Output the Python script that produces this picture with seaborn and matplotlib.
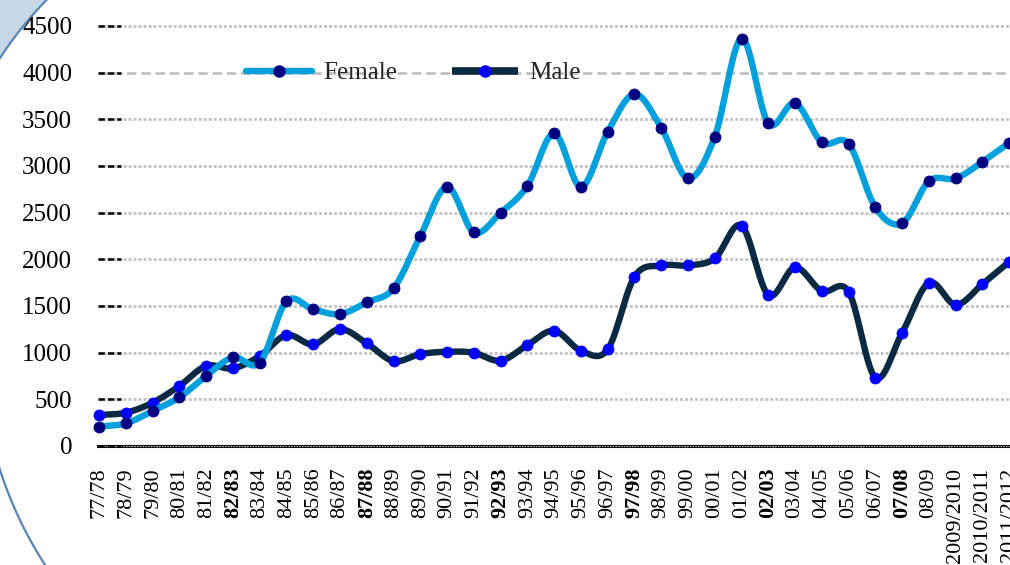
import numpy as np
import pandas as pd
import matplotlib
matplotlib.use("Agg")
import matplotlib.pyplot as plt
import seaborn as sns
from matplotlib.lines import Line2D
from matplotlib.patches import Polygon

# ---------------- data ----------------
periods = ["77/78", "78/79", "79/80", "80/81", "81/82", "82/83", "83/84", "84/85",
           "85/86", "86/87", "87/88", "88/89", "89/90", "90/91", "91/92", "92/93",
           "93/94", "94/95", "95/96", "96/97", "97/98", "98/99", "99/00", "00/01",
           "01/02", "02/03", "03/04", "04/05", "05/06", "06/07", "07/08", "08/09",
           "2009/2010", "2010/2011", "2011/2012"]
female = [207, 243, 375, 521, 750, 950, 893, 1550, 1464, 1414, 1539, 1689, 2249,
          2777, 2289, 2499, 2787, 3349, 2777, 3367, 3770, 3410, 2867, 3313, 4366,
          3456, 3674, 3253, 3238, 2556, 2388, 2838, 2867, 3045, 3249]
male = [332, 357, 464, 643, 857, 832, 964, 1189, 1089, 1253, 1100, 910, 985,
        1010, 999, 914, 1082, 1235, 1021, 1035, 1813, 1935, 1935, 2010, 2360,
        1617, 1914, 1660, 1653, 732, 1214, 1749, 1513, 1735, 1974]
bold_periods = ["82/83", "87/88", "92/93", "97/98", "02/03", "07/08"]
y_ticks = [0, 500, 1000, 1500, 2000, 2500, 3000, 3500, 4000, 4500]
series_names = ["Female", "Male"]

# ---------------- style ----------------
sns.set_style("white")
plt.rcParams["font.family"] = ["Liberation Serif", "DejaVu Serif"]

FEM_LINE, FEM_MARK = "#00A0DC", "#000080"
MAL_LINE, MAL_MARK = "#0A2A44", "#0000FF"
GRID = "#BFBFBF"

W, H = 1010, 565
fig = plt.figure(figsize=(W / 100, H / 100), dpi=100)
fig.patch.set_facecolor("white")

x0_px, y0_px, ytop_px = 98, 446, 26
px_per_unit = 26.77
xlim = (-0.04, 34.5)
ax_w_px = (xlim[1] - xlim[0]) * px_per_unit
ax = fig.add_axes([x0_px / W, 1 - y0_px / H, ax_w_px / W, (y0_px - ytop_px) / H])
ax.set_facecolor("none")

x = np.arange(len(periods))


def smooth(vals, n=24):
    """Catmull-Rom (Excel-style) smoothing through the points."""
    v = np.asarray(vals, float)
    m = np.gradient(v)
    t = np.linspace(0, 1, n, endpoint=False)
    h00 = 2 * t**3 - 3 * t**2 + 1
    h10 = t**3 - 2 * t**2 + t
    h01 = -2 * t**3 + 3 * t**2
    h11 = t**3 - t**2
    xs, ys = [], []
    for i in range(len(v) - 1):
        xs.append(i + t)
        ys.append(h00 * v[i] + h10 * m[i] + h01 * v[i + 1] + h11 * m[i + 1])
    xs.append([len(v) - 1])
    ys.append([v[-1]])
    return np.concatenate(xs), np.concatenate(ys)


# gridlines
ax.set_ylim(0, 4500)
ax.set_xlim(*xlim)
ax.set_yticks(y_ticks)
for yv in y_ticks[1:]:
    if yv == 4000:
        ls = (0, (3.6, 1.8))
    else:
        ls = (0, (1.1, 0.8))
    ax.axhline(yv, color=GRID, lw=1.9, ls=ls, zorder=1, clip_on=False)
# black dashes at left of each gridline
ax.hlines(y_ticks, 0, 23 / ax_w_px, transform=ax.get_yaxis_transform(),
          colors="black", lw=1.8, linestyles=(0, (2.5, 1.25)), zorder=4, clip_on=False)
# x axis line
for s in ["top", "right", "left"]:
    ax.spines[s].set_visible(False)
ax.spines["bottom"].set_color("black")
ax.spines["bottom"].set_linewidth(2.2)
ax.axhline(0, color=GRID, lw=0.9, ls=(0, (1.3, 0.9)), zorder=3, clip_on=False)

# series
mx, my = smooth(male)
fx, fy = smooth(female)
sns.lineplot(x=mx, y=my, ax=ax, color=MAL_LINE, lw=4.6, sort=False,
             estimator=None, zorder=5)
sns.scatterplot(x=x, y=male, ax=ax, color=MAL_MARK, edgecolor=MAL_MARK, s=62,
                zorder=6, clip_on=False)
sns.lineplot(x=fx, y=fy, ax=ax, color=FEM_LINE, lw=4.6, sort=False,
             estimator=None, zorder=7, solid_capstyle="round")
sns.scatterplot(x=x, y=female, ax=ax, color=FEM_MARK, edgecolor=FEM_MARK, s=62,
                zorder=8, clip_on=False)

# ticks
ax.set_xticks(x)
ax.set_xticklabels(periods)
ax.set_yticklabels([str(v) for v in y_ticks])
ax.tick_params(axis="y", length=0, pad=18.7, labelsize=18, labelcolor="black")
ax.tick_params(axis="x", length=0, pad=15.5, labelsize=16, labelcolor="black",
               labelrotation=90)
for lab in ax.get_xticklabels():
    lab.set_verticalalignment("top")
    lab.set_horizontalalignment("center")
    if lab.get_text() in bold_periods:
        lab.set_fontweight("bold")
ax.set_xlabel("")
ax.set_ylabel("")

# legend
handles = [
    Line2D([], [], color=FEM_LINE, lw=4.6, marker="o", markersize=8,
           markerfacecolor=FEM_MARK, markeredgecolor=FEM_MARK, solid_capstyle="round"),
    Line2D([], [], color=MAL_LINE, lw=5.5, marker="o", markersize=8,
           markerfacecolor=MAL_MARK, markeredgecolor=MAL_MARK, solid_capstyle="butt"),
]
if ax.get_legend() is not None:
    ax.get_legend().remove()
fig.legend(handles, series_names, loc="center left",
           bbox_to_anchor=(246 / W, 1 - 73 / H), bbox_transform=fig.transFigure,
           ncol=2, frameon=False, borderpad=0, borderaxespad=0,
           handlelength=2.64, handletextpad=0.44, columnspacing=2.2,
           numpoints=1, prop={"family": "Liberation Serif", "size": 18})

# decorative circle arcs in left corners
def to_fig(px, py):
    return np.column_stack([np.asarray(px) / W, 1 - np.asarray(py) / H])

th = np.radians(np.linspace(133, 150, 60))
tx = 330 + 395 * np.cos(th)
ty = 275 - 395 * np.sin(th)
poly_pts = np.vstack([to_fig(tx, ty), to_fig([-5], [-5])])
fig.add_artist(Polygon(poly_pts, closed=True, transform=fig.transFigure,
                       facecolor="#C8D7E7", edgecolor="none", zorder=-2))
fig.add_artist(Line2D(tx / W, 1 - ty / H, transform=fig.transFigure,
                      color="#5A84B4", lw=1.6, zorder=-1))
tb = np.radians(np.linspace(-165, -144, 60))
bx = 384 + 403.5 * np.cos(tb)
by = 346 - 403.5 * np.sin(tb)
fig.add_artist(Line2D(bx / W, 1 - by / H, transform=fig.transFigure,
                      color="#5A84B4", lw=1.6, zorder=-1))

fig.savefig("out.png", dpi=100)
